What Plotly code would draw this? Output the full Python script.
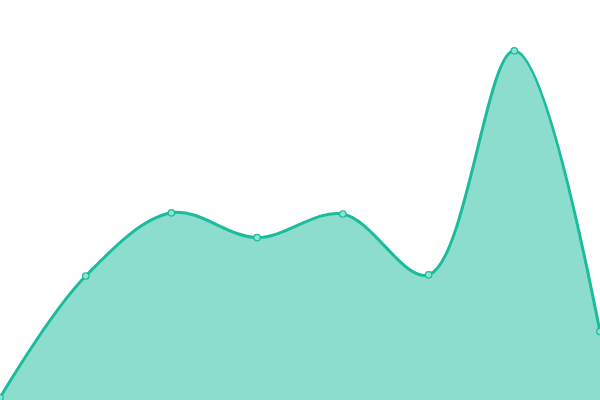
import plotly.graph_objects as go

x_values = [0, 1, 2, 3, 4, 5, 6, 7]
y_values = [0.6, 31.0, 46.8, 40.6, 46.5, 31.3, 87.3, 17.1]

LINE = "#1abc9c"
FILL = "rgba(26,188,156,0.5)"

fig = go.Figure()
fig.add_trace(go.Scatter(
    x=x_values,
    y=y_values,
    mode="lines+markers",
    line=dict(color=LINE, width=3, shape="spline", smoothing=1),
    fill="tozeroy",
    fillcolor=FILL,
    marker=dict(size=6.5, color="#8fe3d1", line=dict(color=LINE, width=1.2)),
    cliponaxis=False,
    hoverinfo="x+y",
))

fig.update_layout(
    width=600,
    height=400,
    margin=dict(l=0, r=0, t=0, b=0),
    paper_bgcolor="white",
    plot_bgcolor="white",
    showlegend=False,
    xaxis=dict(range=[0, 7], visible=False, fixedrange=True),
    yaxis=dict(range=[0, 100], visible=False, fixedrange=True),
)

# page has a default 8px body margin, drop it so the chart fills the window
fig.write_html("out.html", config={"displayModeBar": False},
               post_script="document.body.style.margin='0';document.body.style.overflow='hidden';")
